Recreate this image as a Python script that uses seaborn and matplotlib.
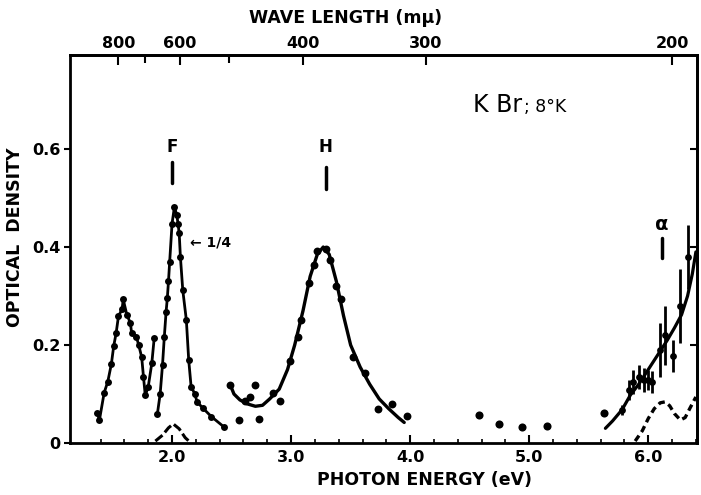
import numpy as np
import pandas as pd
import matplotlib
matplotlib.use("Agg")
import matplotlib.pyplot as plt
import seaborn as sns

# ---------------- data ----------------
# low-energy band (1.4-1.85 eV), points joined by line
ir_e = [1.37, 1.39, 1.43, 1.46, 1.49, 1.51, 1.53, 1.55, 1.58, 1.59, 1.62, 1.65,
        1.66, 1.70, 1.72, 1.745, 1.76, 1.775, 1.80, 1.83, 1.85]
ir_od = [0.062, 0.047, 0.103, 0.125, 0.161, 0.198, 0.224, 0.259, 0.273, 0.293, 0.262, 0.245,
         0.225, 0.217, 0.200, 0.175, 0.135, 0.097, 0.115, 0.163, 0.214]

# F band (plotted at 1/4 scale)
f_e = [1.877, 1.90, 1.92, 1.935, 1.95, 1.96, 1.97, 1.98, 2.00, 2.02, 2.04, 2.05,
       2.06, 2.07, 2.09, 2.12, 2.14, 2.16, 2.19, 2.21, 2.26, 2.33, 2.44]
f_od = [0.060, 0.100, 0.160, 0.217, 0.268, 0.295, 0.330, 0.370, 0.448, 0.482, 0.465, 0.448,
        0.428, 0.380, 0.312, 0.251, 0.169, 0.115, 0.101, 0.084, 0.071, 0.054, 0.032]

# F band true scale (small dashed hump)
fs_e = [1.86, 1.92, 1.97, 2.01, 2.06, 2.11, 2.15]
fs_od = [0.004, 0.016, 0.031, 0.039, 0.029, 0.011, 0.002]

# H band measured points
h_e = [2.49, 2.56, 2.61, 2.655, 2.70, 2.73, 2.85, 2.91, 2.99, 3.06, 3.08, 3.15,
       3.19, 3.22, 3.29, 3.33, 3.38, 3.42, 3.52, 3.62, 3.73, 3.85, 3.97]
h_od = [0.118, 0.048, 0.086, 0.093, 0.118, 0.050, 0.103, 0.086, 0.167, 0.217, 0.251, 0.326,
        0.363, 0.392, 0.396, 0.373, 0.320, 0.293, 0.176, 0.143, 0.069, 0.079, 0.055]

# H band drawn curve
hc_e = [2.49, 2.52, 2.57, 2.63, 2.70, 2.76, 2.82, 2.90, 2.97, 3.03, 3.10, 3.16, 3.22,
        3.27, 3.32, 3.38, 3.44, 3.50, 3.58, 3.66, 3.74, 3.82, 3.90, 3.95]
hc_od = [0.118, 0.100, 0.088, 0.080, 0.075, 0.077, 0.090, 0.110, 0.150, 0.200, 0.270, 0.340,
         0.385, 0.400, 0.385, 0.330, 0.260, 0.200, 0.155, 0.120, 0.090, 0.070, 0.052, 0.042]

# isolated points between 4 and 5.6 eV
mid_e = [4.58, 4.75, 4.94, 5.15, 5.63]
mid_od = [0.057, 0.038, 0.033, 0.035, 0.061]

# alpha region points with error bars
al_e = [5.78, 5.835, 5.875, 5.92, 5.96, 6.00, 6.03, 6.10, 6.14, 6.21, 6.27, 6.33]
al_od = [0.067, 0.108, 0.125, 0.135, 0.129, 0.129, 0.125, 0.190, 0.220, 0.178, 0.280, 0.380]
al_err = [0.010, 0.020, 0.025, 0.025, 0.025, 0.020, 0.022, 0.055, 0.060, 0.033, 0.075, 0.065]

# alpha region drawn curve
ac_e = [5.64, 5.70, 5.78, 5.85, 5.92, 6.00, 6.08, 6.16, 6.22, 6.28, 6.33, 6.37, 6.40]
ac_od = [0.030, 0.045, 0.068, 0.098, 0.120, 0.150, 0.180, 0.210, 0.235, 0.262, 0.300, 0.345, 0.390]

# alpha band (difference) dashed curve
a2_e = [5.89, 5.95, 6.00, 6.05, 6.10, 6.14, 6.18, 6.22, 6.27, 6.31, 6.35, 6.40]
a2_od = [0.004, 0.025, 0.050, 0.070, 0.082, 0.084, 0.076, 0.060, 0.047, 0.052, 0.071, 0.094]

x_ticks = [2.0, 3.0, 4.0, 5.0, 6.0]
x_ticklabels = ["2.0", "3.0", "4.0", "5.0", "6.0"]
y_ticks = [0.0, 0.2, 0.4, 0.6]
y_ticklabels = ["0", "0.2", "0.4", "0.6"]
wl_ticks = [800, 600, 400, 300, 200]
wl_minor = [700, 500]

# ---------------- style ----------------
sns.set_style("ticks")
plt.rcParams['font.family'] = ['DejaVu Sans']
plt.rcParams['font.weight'] = 'bold'
for key in ['text.color', 'axes.labelcolor', 'xtick.color', 'ytick.color', 'axes.edgecolor']:
    plt.rcParams[key] = 'black'

fig = plt.figure(figsize=(7.01, 4.95), dpi=100)
ax = fig.add_axes([0.0999, 0.105, 0.8945, 0.784])

K = "black"
lw = 2.0

ir = pd.DataFrame({"E": ir_e, "OD": ir_od})
sns.lineplot(data=ir, x="E", y="OD", ax=ax, color=K, lw=lw, sort=False,
             marker="o", markersize=5, markeredgewidth=0, estimator=None)

fb = pd.DataFrame({"E": f_e, "OD": f_od})
sns.lineplot(data=fb, x="E", y="OD", ax=ax, color=K, lw=lw, sort=False,
             marker="o", markersize=5, markeredgewidth=0, estimator=None)

fs = pd.DataFrame({"E": fs_e, "OD": fs_od})
sns.lineplot(data=fs, x="E", y="OD", ax=ax, color=K, lw=2.2, sort=False,
             linestyle=(0, (3, 1.2)), estimator=None)

hc = pd.DataFrame({"E": hc_e, "OD": hc_od})
sns.lineplot(data=hc, x="E", y="OD", ax=ax, color=K, lw=2.4, sort=False, estimator=None)
hp = pd.DataFrame({"E": h_e, "OD": h_od})
sns.scatterplot(data=hp, x="E", y="OD", ax=ax, color=K, s=32, linewidth=0)

mp = pd.DataFrame({"E": mid_e, "OD": mid_od})
sns.scatterplot(data=mp, x="E", y="OD", ax=ax, color=K, s=34, linewidth=0)

ac = pd.DataFrame({"E": ac_e, "OD": ac_od})
sns.lineplot(data=ac, x="E", y="OD", ax=ax, color=K, lw=2.3, sort=False, estimator=None)
ap = pd.DataFrame({"E": al_e, "OD": al_od, "err": al_err})
sns.scatterplot(data=ap, x="E", y="OD", ax=ax, color=K, s=24, linewidth=0)
ax.vlines(ap["E"], ap["OD"] - ap["err"], ap["OD"] + ap["err"], color=K, lw=2.0)

a2 = pd.DataFrame({"E": a2_e, "OD": a2_od})
sns.lineplot(data=a2, x="E", y="OD", ax=ax, color=K, lw=2.4, sort=False,
             linestyle=(0, (2, 1.3)), estimator=None)

# ---------------- axes ----------------
ax.set_xlim(1.143, 6.41)
ax.set_ylim(0, 0.792)
ax.set_xticks(x_ticks)
ax.set_xticklabels(x_ticklabels)
ax.set_xticks(np.arange(1.4, 6.41, 0.2), minor=True)
ax.set_yticks(y_ticks)
ax.set_yticklabels(y_ticklabels)
for s in ax.spines.values():
    s.set_linewidth(2.0)
    s.set_visible(True)
    s.set_color(K)
ax.tick_params(axis='x', which='major', direction='in', length=6, width=1.5,
               labelsize=11.5, pad=5, colors=K)
ax.tick_params(axis='x', which='minor', direction='in', length=3, width=1.2, colors=K)
ax.tick_params(axis='y', which='major', direction='out', length=4, width=1.5,
               labelsize=11.5, pad=3, colors=K)
for lab in ax.get_xticklabels() + ax.get_yticklabels():
    lab.set_fontweight('bold')

ax.set_xlabel("PHOTON ENERGY (eV)", fontsize=12.5, fontweight='bold',
              x=0.565, labelpad=4, color=K)
ax.set_ylabel("OPTICAL  DENSITY", fontsize=12.5, fontweight='bold',
              y=0.53, labelpad=6, color=K)

# right-hand ticks
ry = ax.secondary_yaxis('right')
ry.set_yticks([0.2, 0.4, 0.6])
ry.tick_params(direction='in', length=5, width=1.5, labelright=False, colors=K)
ry.spines['right'].set_linewidth(2.0)
ry.spines['right'].set_color(K)

# top wavelength axis
def e2wl(x):
    x = np.asarray(x, dtype=float)
    with np.errstate(divide='ignore', invalid='ignore'):
        return 1239.8 / x

tx = ax.secondary_xaxis('top', functions=(e2wl, e2wl))
tx.set_xticks(wl_ticks)
tx.set_xticklabels([str(v) for v in wl_ticks])
tx.set_xticks(wl_minor, minor=True)
tx.tick_params(axis='x', which='major', direction='in', length=7, width=1.5,
               labelsize=11.5, pad=3, colors=K)
tx.tick_params(axis='x', which='minor', direction='in', length=6, width=1.5, colors=K)
tx.spines['top'].set_linewidth(2.0)
tx.spines['top'].set_color(K)
for lab in tx.get_xticklabels():
    lab.set_fontweight('bold')
tx.set_xlabel("WAVE LENGTH (mμ)", fontsize=12.5, fontweight='bold', labelpad=9,
              x=0.44, color=K)

# ---------------- annotations ----------------
ax.text(2.0, 0.604, "F", ha='center', va='center', fontsize=12, fontweight='bold')
ax.plot([2.0, 2.0], [0.531, 0.573], color=K, lw=2.5)
ax.text(3.29, 0.604, "H", ha='center', va='center', fontsize=12, fontweight='bold')
ax.plot([3.29, 3.29], [0.518, 0.563], color=K, lw=2.5)
ax.text(6.115, 0.445, "α", ha='center', va='center', fontsize=14, fontweight='bold')
ax.plot([6.115, 6.115], [0.378, 0.418], color=K, lw=2.5)
ax.text(2.15, 0.41, "← 1/4", ha='left', va='center', fontsize=10, fontweight='bold')
ax.text(4.53, 0.676, "K Br", ha='left', va='baseline', fontsize=17, fontweight='normal')
ax.text(4.96, 0.676, "; 8°K", ha='left', va='baseline', fontsize=12.5, fontweight='normal')

fig.savefig("out.png", dpi=100, facecolor='white')
